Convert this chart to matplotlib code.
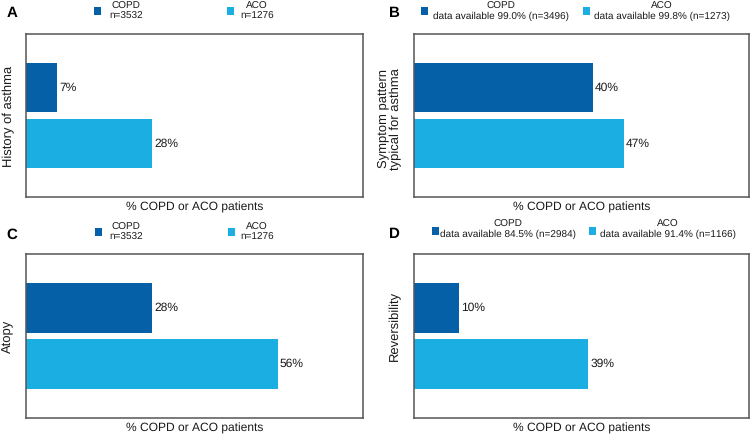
import matplotlib
matplotlib.use("Agg")
import matplotlib.pyplot as plt
from matplotlib.patches import Rectangle

plt.rcParams['font.family'] = ['Liberation Sans', 'DejaVu Sans']
plt.rcParams['text.hinting'] = 'no_hinting'
plt.rcParams['text.hinting_factor'] = 1

W, H = 753, 434

groups = ["COPD", "ACO"]
colors = ["#0560a8", "#1aaee3"]

panel_letters = ["A", "B", "C", "D"]
panel_ylabels = ["History of asthma", "Symptom pattern\ntypical for asthma", "Atopy", "Reversibility"]
values_A = [7, 28]
values_B = [40, 47]
values_C = [28, 56]
values_D = [10, 39]
legend_A = ["COPD\nn=3532", "ACO\nn=1276"]
legend_B = ["COPD\ndata available 99.0% (n=3496)", "ACO\ndata available 99.8% (n=1273)"]
legend_C = ["COPD\nn=3532", "ACO\nn=1276"]
legend_D = ["COPD\ndata available 84.5% (n=2984)", "ACO\ndata available 91.4% (n=1166)"]
xlabel = "% COPD or ACO patients"

fig = plt.figure(figsize=(W / 100, H / 100), dpi=100)

def fx(px):
    return px / W

def fy(py):
    return 1 - py / H

# layout in pixels: (left, top, right, bottom)
boxes = [(26, 34, 363, 197), (414, 34, 749, 197), (26, 254, 363, 418), (414, 254, 749, 418)]
letter_pos = [(12, 13), (394, 13), (12, 235), (394, 234)]
ylabel_xy = [(9, 116), (389, 119), (8, 336), (395, 326)]
legend_sq = [[(94, 7), (227, 7)], [(421, 7), (583, 7)], [(95, 228), (228, 228)], [(432, 227), (589, 227)]]
legend_txt = [[(126, 11), (257, 11)], [(501, 11), (662, 11)], [(126, 232), (257, 232)], [(508, 229), (668, 229)]]
all_values = [values_A, values_B, values_C, values_D]
all_legends = [legend_A, legend_B, legend_C, legend_D]

for k in range(4):
    l, t, r, b = boxes[k]
    ax = fig.add_axes([fx(l), fy(b), fx(r) - fx(l), (b - t) / H])
    vals = all_values[k]
    pos = list(range(len(groups)))
    ax.barh(pos, vals, height=0.89, color=colors, edgecolor='none')
    for p, v in zip(pos, vals):
        ax.annotate(f"{v}%", (v, p), xytext=(1.5, 0), textcoords='offset points',
                    va='center', ha='left', fontsize=8.3, color='#1a1a1a')
    ax.set_xlim(0, 75)
    ax.set_ylim(1.96, -0.96)
    ax.set_xticks([])
    ax.set_yticks([])
    for s in ax.spines.values():
        s.set_color('#555555')
        s.set_linewidth(1.1)
    # x label
    fig.text(fx((l + r) / 2), fy(b + 10), xlabel, ha='center', va='center', fontsize=8.8, color='#1a1a1a')
    # y label
    yx, yy = ylabel_xy[k]
    fig.text(fx(yx), fy(yy), panel_ylabels[k], rotation=90, ha='center', va='center',
             fontsize=9.4, color='#1a1a1a', multialignment='center', linespacing=1.1)
    # panel letter
    lx, ly = letter_pos[k]
    fig.text(fx(lx), fy(ly), panel_letters[k], ha='center', va='center', fontsize=11, fontweight='bold')
    # legend
    for j in range(len(groups)):
        sx, sy = legend_sq[k][j]
        fig.patches.append(Rectangle((fx(sx), fy(sy + 8)), 7 / W, 8 / H, transform=fig.transFigure,
                                     facecolor=colors[j], edgecolor='none'))
        tx, ty = legend_txt[k][j]
        fig.text(fx(tx), fy(ty), all_legends[k][j], ha='center', va='center', fontsize=7,
                 multialignment='center', linespacing=1.1, color='#1a1a1a')

fig.savefig("out.png", dpi=100)
